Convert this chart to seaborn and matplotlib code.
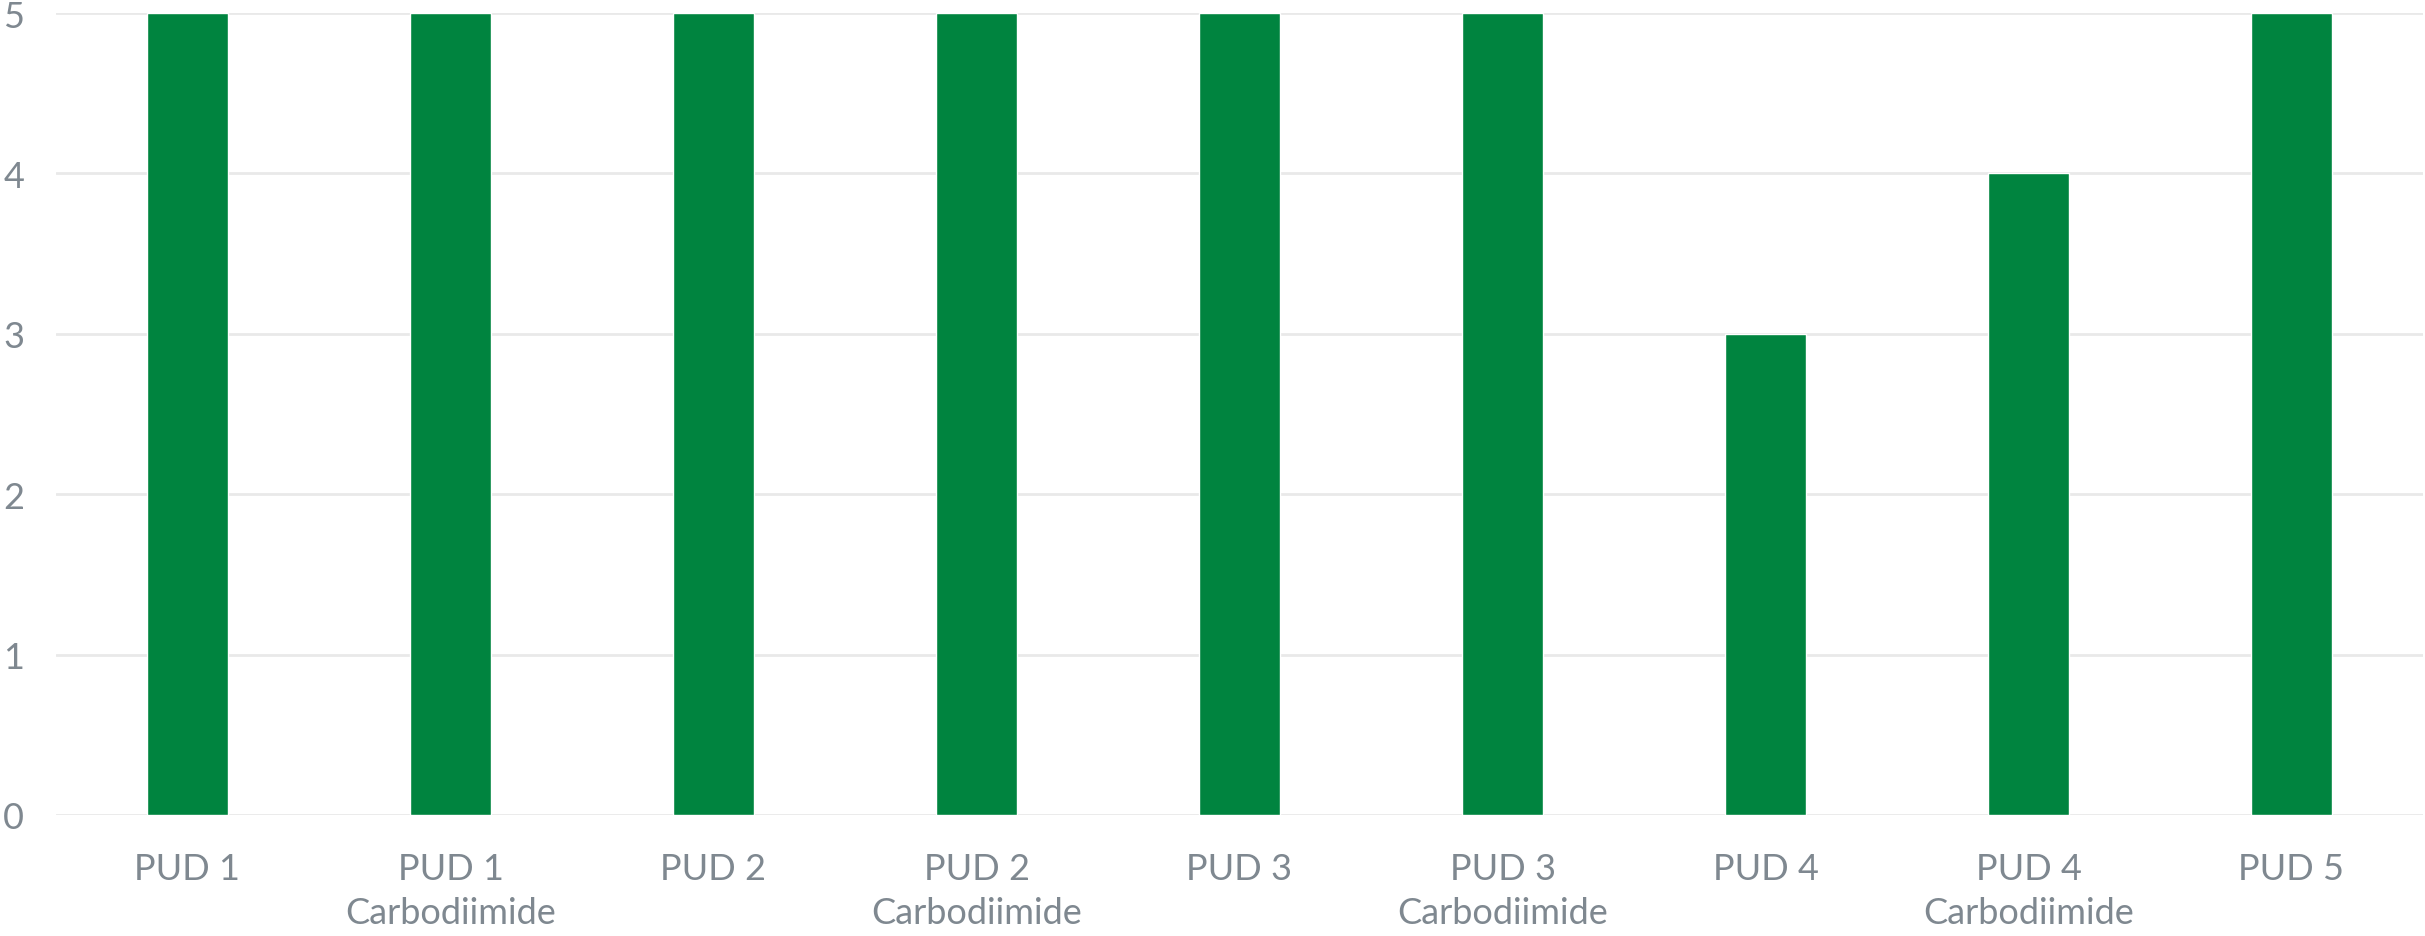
import numpy as np
import pandas as pd
import matplotlib
matplotlib.use("Agg")
import matplotlib.pyplot as plt
import seaborn as sns

categories = [
    "PUD 1", "PUD 1\nCarbodiimide",
    "PUD 2", "PUD 2\nCarbodiimide",
    "PUD 3", "PUD 3\nCarbodiimide",
    "PUD 4", "PUD 4\nCarbodiimide",
    "PUD 5",
]
values = [5, 5, 5, 5, 5, 5, 3, 4, 5]
yticks = [0, 1, 2, 3, 4, 5]

sns.set_style("white")
plt.rcParams["font.family"] = ["Lato", "DejaVu Sans"]

text_color = "#7f8890"
bar_color = "#00843f"

df = pd.DataFrame({"sample": categories, "value": values})

fig = plt.figure(figsize=(24.25, 9.37), dpi=100)
ax = fig.add_axes([56 / 2425, 1 - 816 / 937, (2423 - 56) / 2425, (816 - 14) / 937])

sns.barplot(df, x="sample", y="value", color=bar_color, width=0.31,
            saturation=1, ax=ax, zorder=3)

ax.set_ylim(0, 5)
ax.set_xlim(-0.5, len(categories) - 0.5)
ax.set_yticks(yticks)
ax.grid(axis="y", color="#e9e9e9", linewidth=2, zorder=0)
ax.set_axisbelow(True)
for s in ax.spines.values():
    s.set_visible(False)
ax.set_xlabel("")
ax.set_ylabel("")
ax.tick_params(axis="both", length=0, labelsize=26, colors=text_color)
ax.tick_params(axis="x", pad=27)
ax.tick_params(axis="y", pad=38)
for lbl in ax.get_yticklabels():
    lbl.set_horizontalalignment("left")
for lbl in ax.get_xticklabels():
    lbl.set_linespacing(1.4)

fig.savefig("out.png", dpi=100)
